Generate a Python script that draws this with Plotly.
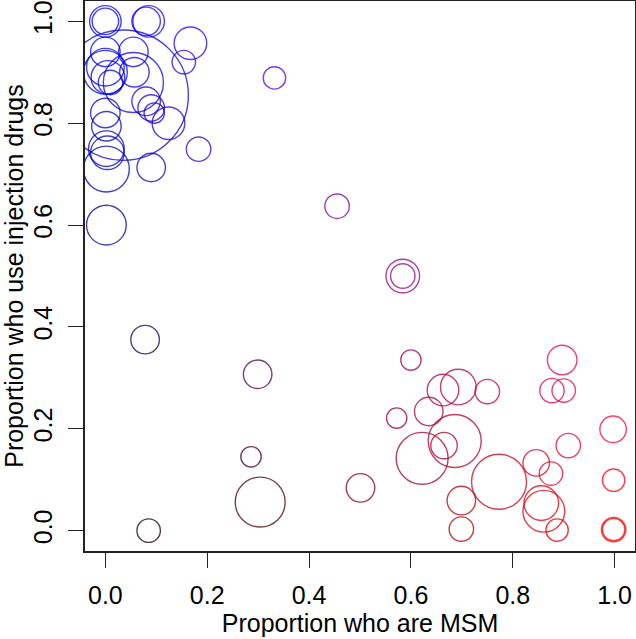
import plotly.graph_objects as go

# proportion MSM, proportion IDU, circle radius (plot units) for each study
msm = [0.000, 0.000, 0.085, 0.080, 0.167, 0.154, 0.000, 0.055, 0.000, 0.005,
       0.010, 0.000, 0.057, 0.035, 0.055, 0.080, 0.090, 0.096, 0.124, 0.000,
       0.002, 0.002, 0.004, 0.002, 0.002, 0.090, 0.183, 0.332,
       0.455, 0.584, 0.584, 0.078, 0.299, 0.286, 0.304, 0.085, 0.501,
       0.600, 0.663, 0.693, 0.750, 0.635, 0.572, 0.686, 0.665, 0.622, 0.773,
       0.699, 0.699, 0.846, 0.875, 0.856, 0.861, 0.887, 0.897, 0.877, 0.900,
       0.909, 0.997, 0.998, 0.998, 0.998]
idu = [1.000, 1.000, 1.000, 1.000, 0.957, 0.920, 0.940, 0.940, 0.900, 0.890,
       0.880, 0.910, 0.900, 0.855, 0.880, 0.843, 0.830, 0.820, 0.800, 0.820,
       0.794, 0.750, 0.742, 0.710, 0.600, 0.713, 0.749, 0.889,
       0.637, 0.500, 0.500, 0.375, 0.307, 0.145, 0.056, 0.000, 0.084,
       0.335, 0.276, 0.282, 0.273, 0.234, 0.221, 0.176, 0.167, 0.142, 0.096,
       0.059, 0.003, 0.133, 0.112, 0.054, 0.038, 0.001, 0.335, 0.275, 0.275,
       0.167, 0.199, 0.099, 0.002, 0.002]
radius = [0.031, 0.026, 0.031, 0.028, 0.032, 0.023, 0.029, 0.029, 0.043, 0.033,
          0.024, 0.037, 0.029, 0.128, 0.059, 0.028, 0.026, 0.020, 0.032, 0.029,
          0.029, 0.035, 0.033, 0.045, 0.039, 0.028, 0.024, 0.022,
          0.024, 0.033, 0.024, 0.028, 0.028, 0.020, 0.049, 0.023, 0.028,
          0.020, 0.031, 0.035, 0.024, 0.028, 0.020, 0.052, 0.026, 0.051, 0.054,
          0.028, 0.024, 0.026, 0.023, 0.034, 0.041, 0.022, 0.029, 0.024, 0.023,
          0.024, 0.026, 0.022, 0.024, 0.022]

fig = go.Figure()
# invisible trace so the axes exist
fig.add_trace(go.Scatter(x=msm, y=idu, mode="markers", marker_opacity=0,
                         hoverinfo="skip", showlegend=False))

# circles drawn in data coordinates, colour = rgb(msm, 0, idu)
for x, y, r in zip(msm, idu, radius):
    col = "rgba(%d,0,%d,0.75)" % (round(255 * x), round(255 * y))
    fig.add_shape(type="circle", xref="x", yref="y",
                  x0=x - r, x1=x + r, y0=y - r, y1=y + r,
                  line=dict(color=col, width=1.4), fillcolor="rgba(0,0,0,0)")

font = dict(family="Liberation Sans, Arial, sans-serif", color="black")
axis = dict(range=[-0.04, 1.04], showgrid=False, zeroline=False, automargin=False,
            showline=True, mirror=True, linecolor="#222", linewidth=1.5,
            ticks="outside", ticklen=15, tickwidth=1.2, tickcolor="#222",
            tickvals=[0, 0.2, 0.4, 0.6, 0.8, 1.0],
            ticktext=["0.0", "0.2", "0.4", "0.6", "0.8", "1.0"],
            tickfont=dict(size=25, **font), title_font=dict(size=25, **font))

fig.update_layout(
    width=636, height=639,
    margin=dict(l=85, r=1, t=1, b=88),
    paper_bgcolor="white", plot_bgcolor="white",
    xaxis=dict(axis, ticklabelstandoff=6,
               title=dict(text="Proportion who are MSM", standoff=6)),
    yaxis=dict(axis, tickangle=-90, ticklabelstandoff=6,
               title=dict(text="Proportion who use injection drugs", standoff=6)),
)

# drop the page's default body margin so the figure sits at the window corner
fig.write_html("out.html", config={"displayModeBar": False},
               post_script="document.body.style.margin='0';")
